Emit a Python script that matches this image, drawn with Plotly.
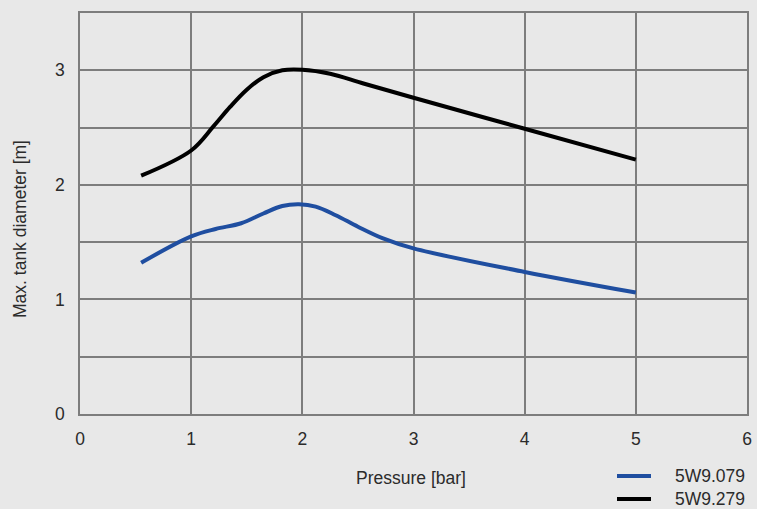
import plotly.graph_objects as go

# Data
pressure_079 = [0.55, 1.0, 1.22, 1.45, 1.65, 1.82, 1.97, 2.12, 2.30, 2.50, 2.72, 3.0, 4.0, 5.0]
diam_079 = [1.32, 1.55, 1.615, 1.665, 1.75, 1.815, 1.83, 1.81, 1.735, 1.635, 1.535, 1.445, 1.24, 1.06]

pressure_279 = [0.55, 1.0, 1.20, 1.35, 1.50, 1.65, 1.82, 2.0, 2.25, 2.55, 3.0, 4.0, 5.0]
diam_279 = [2.08, 2.30, 2.51, 2.68, 2.83, 2.94, 3.00, 3.005, 2.97, 2.885, 2.76, 2.49, 2.22]

series_names = ["5W9.079", "5W9.279"]
series_colors = ["#1f4ea0", "#000000"]

x_ticks = [0, 1, 2, 3, 4, 5, 6]

FONT = "Liberation Sans, Arial, sans-serif"
FS = 17.5
TXT = "#2b2b2b"
GRID = "#7d7d7d"
BG = "#e8e8e8"

fig = go.Figure()
fig.add_trace(go.Scatter(x=pressure_079, y=diam_079, mode="lines", name=series_names[0],
                         line=dict(color=series_colors[0], width=4, shape="spline", smoothing=1.0)))
fig.add_trace(go.Scatter(x=pressure_279, y=diam_279, mode="lines", name=series_names[1],
                         line=dict(color=series_colors[1], width=4, shape="spline", smoothing=1.0)))

fig.update_layout(
    width=757, height=509,
    margin=dict(l=80, r=10, t=13, b=95, autoexpand=False),
    paper_bgcolor=BG, plot_bgcolor=BG,
    showlegend=False,
    font=dict(family=FONT, size=FS, color=TXT),
    xaxis=dict(range=[0, 6], tickvals=x_ticks, showgrid=True, gridcolor=GRID, gridwidth=1.5,
               zeroline=False, showline=True, linecolor=GRID, linewidth=1.5, mirror=True,
               ticks="", ticklabelstandoff=8, automargin=False, tickfont=dict(size=FS, color=TXT)),
    yaxis=dict(range=[0, 3.5], tickvals=[0, 0.5, 1, 1.5, 2, 2.5, 3],
               ticktext=["0", "", "1", "", "2", "", "3"],
               showgrid=True, gridcolor=GRID, gridwidth=1.5,
               zeroline=False, showline=True, linecolor=GRID, linewidth=1.5, mirror=True,
               ticks="", ticklabelstandoff=10, automargin=False, tickfont=dict(size=FS, color=TXT)),
)

# Axis titles
fig.add_annotation(text="Pressure [bar]", xref="paper", yref="paper", x=(411 - 80) / 667,
                   y=-(478 - 414) / 401, xanchor="center", yanchor="middle",
                   showarrow=False, font=dict(size=FS, color=TXT))
fig.add_annotation(text="Max. tank diameter [m]", xref="paper", yref="paper",
                   x=-(80 - 20) / 667, y=(414 - 229) / 401, textangle=-90,
                   xanchor="center", yanchor="middle", showarrow=False,
                   font=dict(size=FS, color=TXT))

# Manual legend
for i, (nm, col) in enumerate(zip(series_names, series_colors)):
    ypx = 476 + i * 23
    yp = (414 - ypx) / 401
    fig.add_shape(type="line", xref="paper", yref="paper",
                  x0=(617 - 80) / 667, x1=(651 - 80) / 667, y0=yp, y1=yp,
                  line=dict(color=col, width=4))
    fig.add_annotation(text=nm, xref="paper", yref="paper", x=(673 - 80) / 667, y=yp,
                       xanchor="left", yanchor="middle", showarrow=False,
                       font=dict(size=FS, color=TXT))

fig.write_html("out.html", config={"displayModeBar": False})

# remove default page margin so the figure sits at the top-left corner
with open("out.html", "r", encoding="utf-8") as f:
    html = f.read()
html = html.replace("<head>", "<head><style>html,body{margin:0;padding:0;overflow:hidden;background:#e8e8e8}</style>", 1)
with open("out.html", "w", encoding="utf-8") as f:
    f.write(html)
